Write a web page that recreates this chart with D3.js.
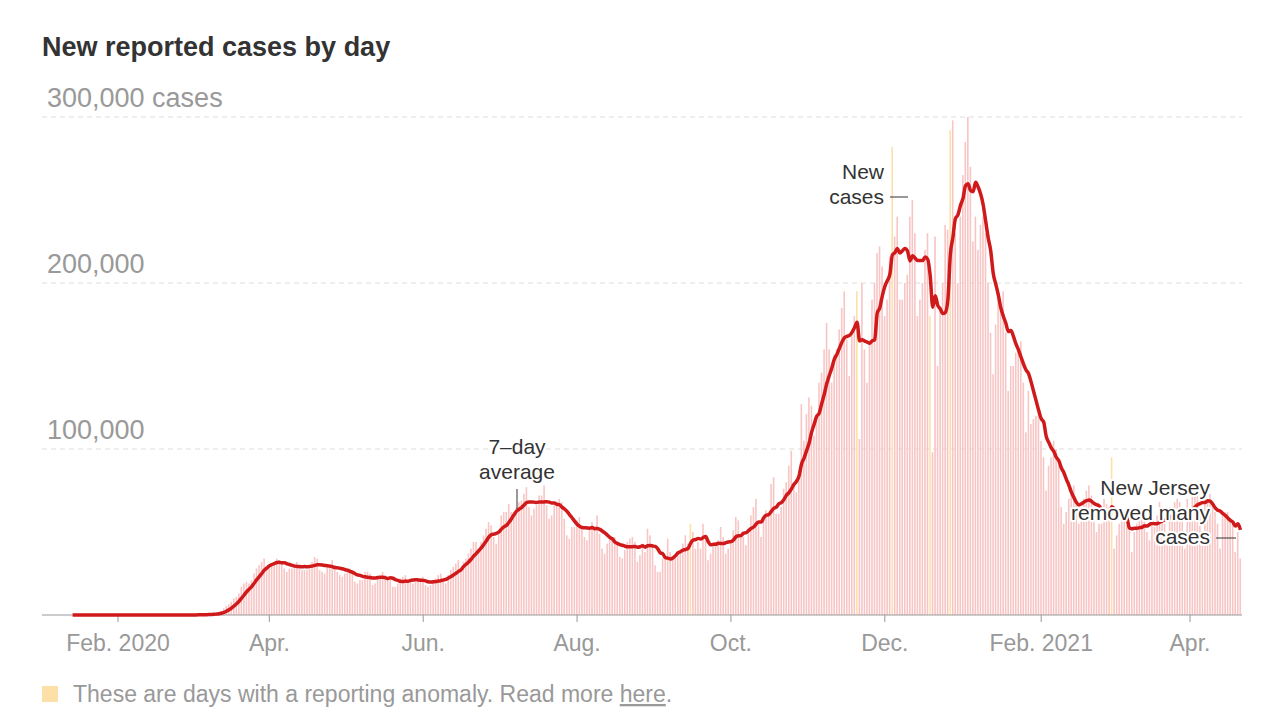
<!DOCTYPE html>
<html><head><meta charset="utf-8">
<script src="https://cdn.jsdelivr.net/npm/d3@7"></script>
<style>body{margin:0;background:#fff;font-family:"Liberation Sans",Arial,sans-serif}</style>
</head><body><svg id="chart" width="1266" height="728"></svg>
<script>
// daily new cases (thousands), in consecutive chunks
var startDate = '2020-01-09';
var firstDate = '2020-01-14', lastDate = '2021-04-21';
var dailyChunks = [
  [0,0,0,0,0,0,0,0,0,0,0,0,0,0,0,0,0,0],
  [0,0,0,0,0,0,0,0,0,0,0,0,0,0,0,0,0,0,0,0,0,0,0,0,0,0,0,0,0],
  [0,0,0.02,0.03,0.05,0.1,0.1,0.15,0.1,0.2,0.3,0.4,0.5,0.6,0.7,1,1.5,2.5,4,5.5,6.5,8,10,11,13,17,19,20,19,21,25],
  [28,30,32,34,28,30,31,32,34,33,32,28,26,28,28,31,32,31,27,27,27,30,32,35,34,27,26,25,29,30],
  [33,30,26,24,23,25,28,28,26,20,19,21,21,26,26,25,18,19,23,22,26,24,22,21,17,17,19,22,23,24,20],
  [21,19,20,21,22,23,18,17,18,21,22,24,25,21,19,24,27,29,31,33,28,32,34,37,40,44,44,40,44,48],
  [52,56,54,47,43,50,60,62,62,67,62,60,65,68,69,73,77,65,60,64,66,72,72,78,66,58,60,66,67,70,68],
  [58,48,46,53,53,57,59,53,47,45,52,56,52,60,49,40,37,43,46,46,47,43,35,34,39,44,46,47,44,32,36],
  [43,38,52,48,42,30,26,26,34,36,46,38,34,36,38,39,43,48,43,36,50,40,44,40,55,47,33,37,42,44],
  [45,53,47,37,40,43,51,59,57,48,47,42,52,60,65,70,56,47,60,63,62,79,83,61,61,65,76,80,90,99,80],
  [74,87,127,105,121,131,126,108,120,140,146,160,176,160,140,157,160,172,185,195,166,144,170,180,180,106,200,160,140,165],
  [190,200,218,222,210,180,190,216,220,228,240,190,190,200,205,240,250,230,180,190,200,220,230,200,98,228,150,185,200,235,232],
  [180,298,230,200,240,265,285,300,270,225,240,220,235,240,230,200,170,145,175,190,185,195,170,135,150,150,158,160,165,140,110],
  [135,115,118,120,125,105,95,75,90,95,105,100,90,65,55,62,70,75,78,69,55,60,70,75,78,72,60,50],
  [55,55,70,67,65,60,40,48,55,58,60,54,51,38,50,55,60,62,60,50,45,55,53,60,68,65,55,45,65,60,68],
  [70,68,60,40,70,62,75,80,78,65,44,70,70,73,68,62,55,40,60,62,62,58,55,38,50,34]
];
// reporting anomaly days and their values (thousands)
var anomalyDates = ['2020-09-15','2020-11-20','2020-12-04','2020-12-19','2020-12-27','2021-03-01'];
var anomalyValues = [55, 195, 282, 180, 292, 95];
var yTicks = [100000, 200000, 300000];
var xTickDates = ['2020-02-01','2020-04-01','2020-06-01','2020-08-01','2020-10-01','2020-12-01','2021-02-01','2021-04-01'];
var xTickLabels = ['Feb. 2020','Apr.','Jun.','Aug.','Oct.','Dec.','Feb. 2021','Apr.'];

var parse = d3.timeParse('%Y-%m-%d'), fmt = d3.timeFormat('%Y-%m-%d');
var data = [], day = parse(startDate);
dailyChunks.flat().forEach(function (v) {
  var k = anomalyDates.indexOf(fmt(day));
  data.push({date: day, value: (k >= 0 ? anomalyValues[k] : v) * 1000, anomaly: k >= 0});
  day = d3.timeDay.offset(day, 1);
});
data = data.filter(function (d) { return d.date >= parse(firstDate) && d.date <= parse(lastDate); });
// 7-day average
data.forEach(function (d, i) {
  var w = data.slice(Math.max(0, i - 6), i + 1);
  d.avg = d3.mean(w, function (e) { return e.value; });
});

var svg = d3.select('#chart');
var x = d3.scaleTime().domain([parse('2020-02-01'), parse('2021-04-01')]).range([118, 1190]);
var y = d3.scaleLinear().domain([0, 300000]).range([615, 117]);
var grey = '#999';

svg.append('text').attr('x', 42).attr('y', 56).attr('font-size', 27).attr('font-weight', 'bold')
  .attr('fill', '#333').text('New reported cases by day');

// grid
yTicks.forEach(function (t) {
  svg.append('line').attr('x1', 42).attr('x2', 1242).attr('y1', y(t)).attr('y2', y(t))
    .attr('stroke', '#ddd').attr('stroke-dasharray', '5,4');
  svg.append('text').attr('x', 47).attr('y', y(t) - 10).attr('font-size', 27).attr('fill', grey)
    .text(d3.format(',')(t) + (t === 300000 ? ' cases' : ''));
});

// bars
svg.append('g').selectAll('rect').data(data).enter().append('rect')
  .attr('x', function (d) { return x(d.date) - 1; })
  .attr('width', 1.6)
  .attr('y', function (d) { return y(d.value); })
  .attr('height', function (d) { return 615 - y(d.value); })
  .attr('fill', function (d) { return d.anomaly ? '#fde0a8' : '#f8c5c5'; });

// axis
svg.append('line').attr('x1', 42).attr('x2', 1242).attr('y1', 615).attr('y2', 615).attr('stroke', '#999');
xTickDates.forEach(function (t, i) {
  var xp = x(parse(t));
  svg.append('line').attr('x1', xp).attr('x2', xp).attr('y1', 615).attr('y2', 622).attr('stroke', '#999');
  svg.append('text').attr('x', xp).attr('y', 651).attr('text-anchor', 'middle').attr('font-size', 23)
    .attr('fill', grey).text(xTickLabels[i]);
});

// 7-day average line
svg.append('path').datum(data)
  .attr('d', d3.line().x(function (d) { return x(d.date); }).y(function (d) { return y(d.avg); }).curve(d3.curveMonotoneX))
  .attr('fill', 'none').attr('stroke', '#d0191a').attr('stroke-width', 3.5).attr('stroke-linejoin', 'round');

// annotations
function note(lines, xp, y0, anchor) {
  lines.forEach(function (s, i) {
    [true, false].forEach(function (halo) {
      var t = svg.append('text').attr('x', xp).attr('y', y0 + i * 24.5).attr('text-anchor', anchor)
        .attr('font-size', 21).attr('fill', '#333').text(s);
      if (halo) t.attr('stroke', '#fff').attr('stroke-width', 4).attr('stroke-linejoin', 'round');
    });
  });
}
note(['7\u2013day', 'average'], 517, 454, 'middle');
svg.append('line').attr('x1', 517).attr('x2', 517).attr('y1', 489).attr('y2', 509).attr('stroke', '#333');
note(['New', 'cases'], 884, 179, 'end');
svg.append('line').attr('x1', 890).attr('x2', 908).attr('y1', 197).attr('y2', 197).attr('stroke', '#333');
note(['New Jersey', 'removed many', 'cases'], 1210, 495, 'end');
svg.append('line').attr('x1', 1216).attr('x2', 1236).attr('y1', 538).attr('y2', 538).attr('stroke', '#333');

// legend
svg.append('rect').attr('x', 42).attr('y', 686).attr('width', 16).attr('height', 16).attr('fill', '#fde0a8');
var lg = svg.append('text').attr('x', 73).attr('y', 702).attr('font-size', 23).attr('fill', grey);
lg.append('tspan').text('These are days with a reporting anomaly. Read more ');
lg.append('tspan').attr('text-decoration', 'underline').text('here');
lg.append('tspan').text('.');
</script></body></html>
